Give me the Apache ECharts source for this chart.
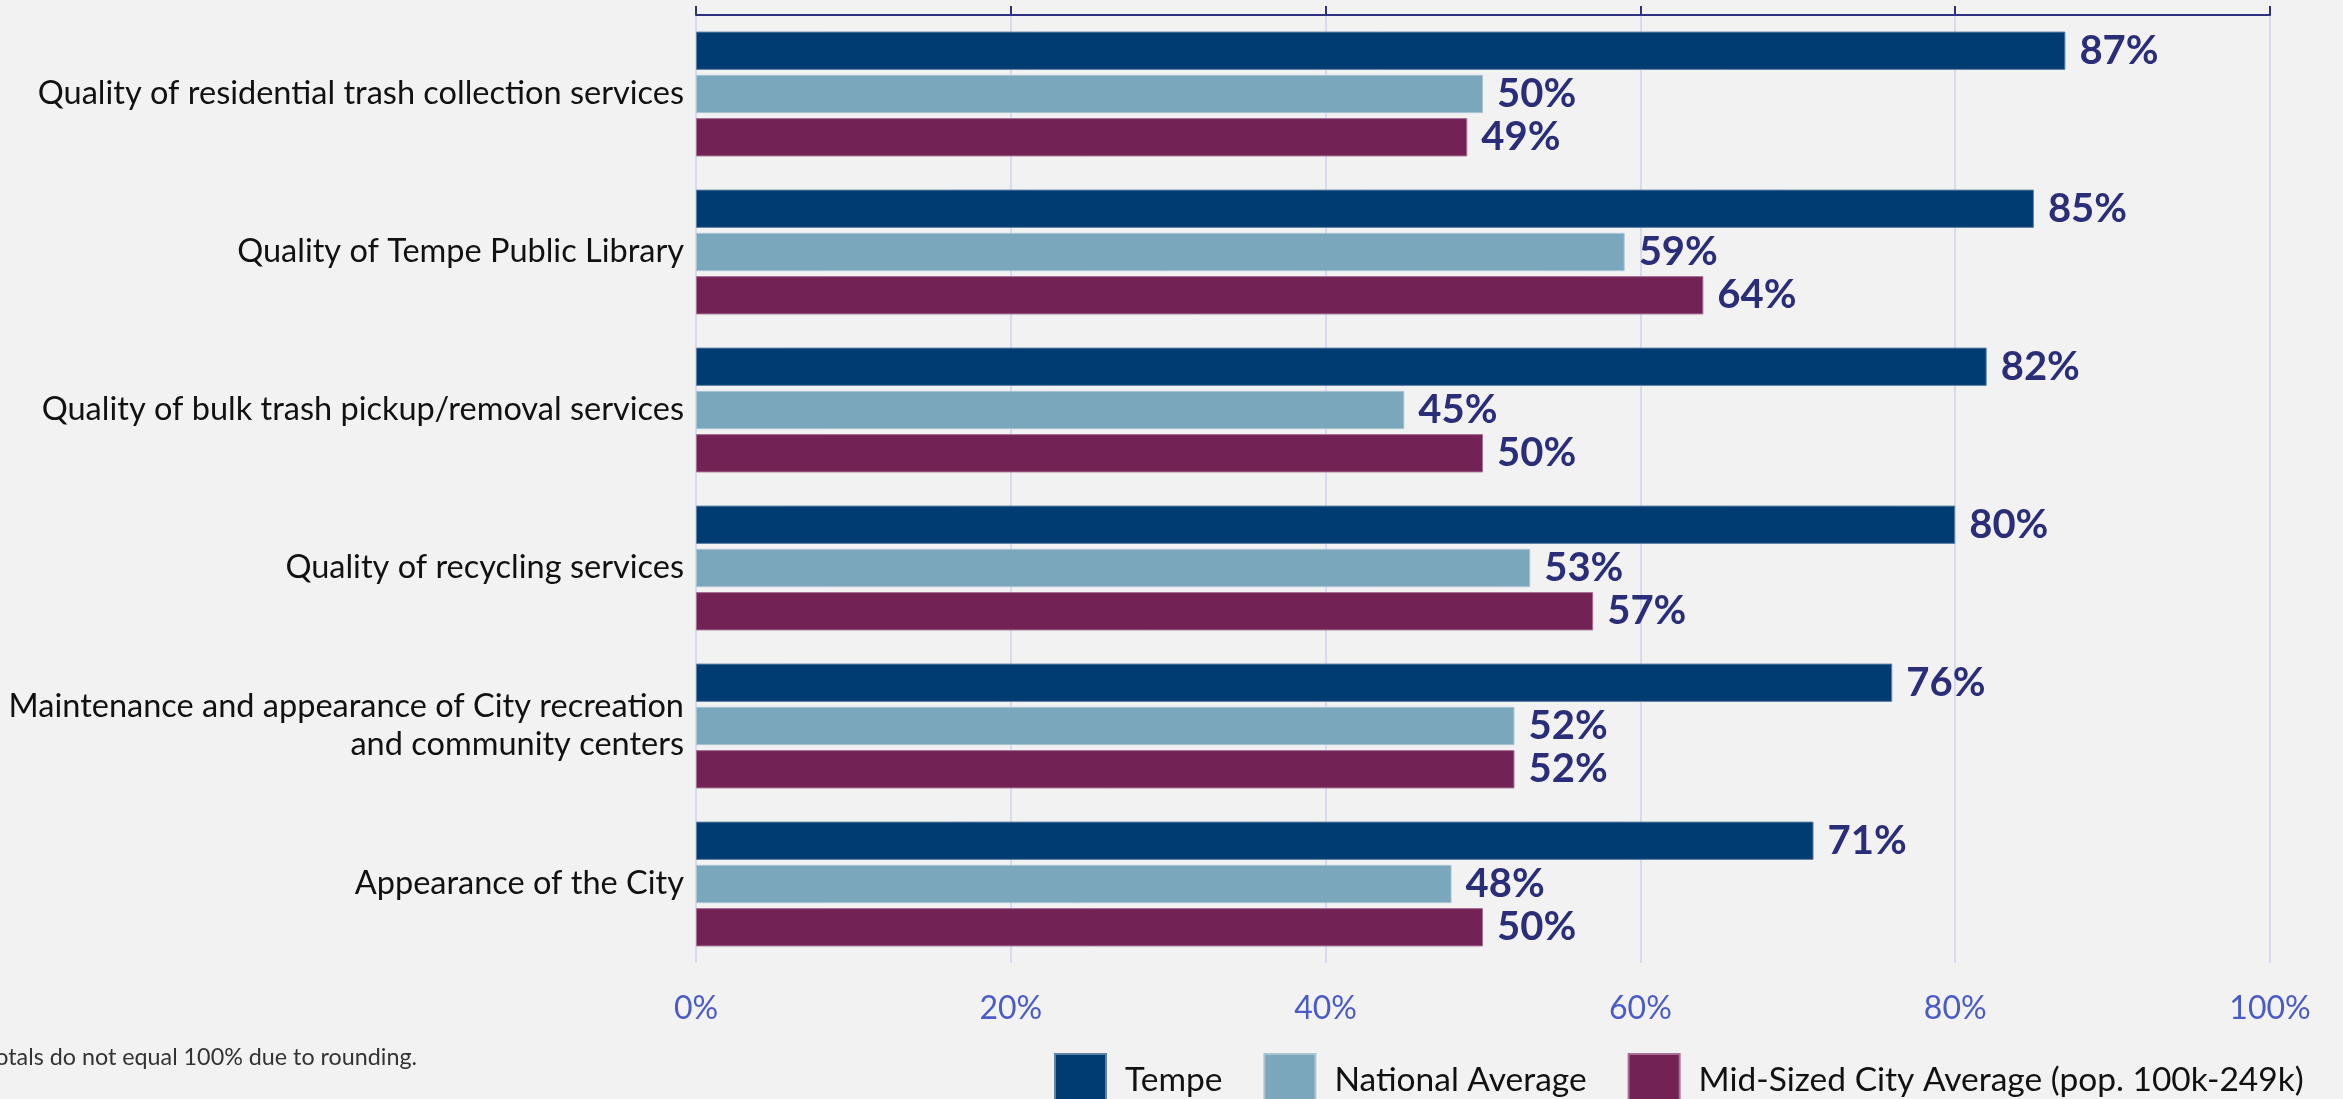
<!DOCTYPE html>
<html>
<head>
<meta charset="utf-8">
<script src="https://cdn.jsdelivr.net/npm/echarts@6/dist/echarts.min.js"></script>
<style>
html,body{margin:0;padding:0;background:#f2f2f2;}
#chart{width:2343px;height:1099px;}
</style>
</head>
<body>
<div id="chart"></div>
<script>
const categories = [
  "Quality of residential trash collection services",
  "Quality of Tempe Public Library",
  "Quality of bulk trash pickup/removal services",
  "Quality of recycling services",
  "Maintenance and appearance of City recreation\nand community centers",
  "Appearance of the City"
];
const seriesNames = ["Tempe", "National Average", "Mid-Sized City Average (pop. 100k-249k)"];
const tempe = [87, 85, 82, 80, 76, 71];
const nationalAvg = [50, 59, 45, 53, 52, 48];
const midSizedAvg = [49, 64, 50, 57, 52, 50];
const xTicks = [0, 20, 40, 60, 80, 100];
const footnote = "Totals do not equal 100% due to rounding.";

const colors = ["#003b71", "#7ba7bd", "#722255"];
const borders = ["#5f83a6", "#a9c5d3", "#a56e92"];
const seriesData = [tempe, nationalAvg, midSizedAvg];

const chart = echarts.init(document.getElementById('chart'));
const font = 'Lato, "Noto Sans", sans-serif';

const option = {
  backgroundColor: '#f2f2f2',
  animation: false,
  grid: { left: 696, right: 73, top: 15, bottom: 136, containLabel: false },
  legend: {
    data: seriesNames,
    left: 1049,
    top: 1048,
    itemWidth: 51,
    itemHeight: 52,
    itemGap: 41,
    icon: 'rect',
    textStyle: { fontFamily: font, fontSize: 33.5, color: '#111', padding: [0, 0, 0, 14] }
  },
  xAxis: [
    {
      type: 'value', min: 0, max: 100, interval: 20, position: 'bottom',
      axisLine: { show: false }, axisTick: { show: false },
      axisLabel: { formatter: '{value}%', fontFamily: font, fontSize: 32, color: '#4a5bc8', margin: 30 },
      splitLine: { show: true, lineStyle: { color: '#d8dbf0', width: 2 } }
    },
    {
      type: 'value', min: 0, max: 100, interval: 20, position: 'top',
      axisLine: { show: true, lineStyle: { color: '#2e3182', width: 2 } },
      axisTick: { show: true, length: 9, lineStyle: { color: '#2e3182', width: 2 } },
      axisLabel: { show: false },
      splitLine: { show: false }
    }
  ],
  yAxis: {
    type: 'category', data: categories, inverse: true,
    axisLine: { show: false }, axisTick: { show: false },
    axisLabel: { fontFamily: font, fontSize: 32.5, color: '#111', margin: 12, lineHeight: 38, align: 'right' }
  },
  series: seriesData.map((d, i) => ({
    name: seriesNames[i],
    type: 'bar',
    data: d,
    barCategoryGap: '21%',
    barGap: '13%',
    itemStyle: { color: colors[i], borderColor: borders[i], borderWidth: 1 },
    label: {
      show: true, position: 'right', distance: 14, formatter: '{c}%',
      fontFamily: font, fontSize: 40, fontWeight: 'bold', color: '#2a2e78'
    }
  })),
  graphic: [
    {
      type: 'text', right: 2343 - 417, top: 1046,
      style: { text: footnote, font: '23.3px ' + font, fill: '#333', textAlign: 'right' }
    }
  ]
};
chart.setOption(option);
</script>
</body>
</html>
